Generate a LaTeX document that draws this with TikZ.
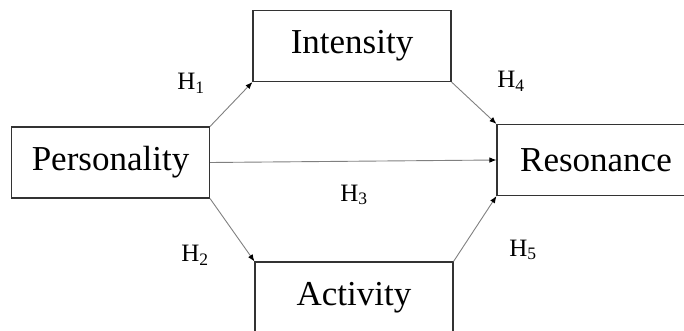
\documentclass[tikz,border=0pt]{standalone}
\usepackage{fontspec}
\setmainfont{Liberation Serif}
\usetikzlibrary{arrows.meta}
\begin{document}
\begin{tikzpicture}[x=1pt,y=-1pt,
  box/.style={draw=black!80,line width=1.1pt,minimum width=198pt,minimum height=71pt,
    inner sep=0pt,font=\fontsize{35}{40}\selectfont},
  link/.style={draw=black!50,line width=0.9pt,
    -{Latex[length=7pt,width=5.5pt,color=black]}},
  hyp/.style={font=\fontsize{25}{28}\selectfont,inner sep=0pt}]
\useasboundingbox (0,0) rectangle (684,331);
\clip (0,0) rectangle (684,331);
% constructs
\node[box] (P) at (110.5,162.5) {Personality};
\node[box] (I) at (352,46) {Intensity};
\node[box] (R) at (596,160) {Resonance};
\node[box] (A) at (354,297.5) {Activity};
% hypothesised paths
\draw[link] (P.north east) -- (I.south west);
\draw[link] (P.south east) -- (A.north west);
\draw[link] (P.east) -- (R.west);
\draw[link] (I.south east) -- (R.north west);
\draw[link] (A.north east) -- (R.south west);
% path labels
\node[hyp] (h1) at (191,83) {H\textsubscript{1}};
\node[hyp] (h2) at (195,255) {H\textsubscript{2}};
\node[hyp] (h3) at (354,195) {H\textsubscript{3}};
\node[hyp] (h4) at (511,81) {H\textsubscript{4}};
\node[hyp] (h5) at (523,250) {H\textsubscript{5}};
\end{tikzpicture}
\end{document}
